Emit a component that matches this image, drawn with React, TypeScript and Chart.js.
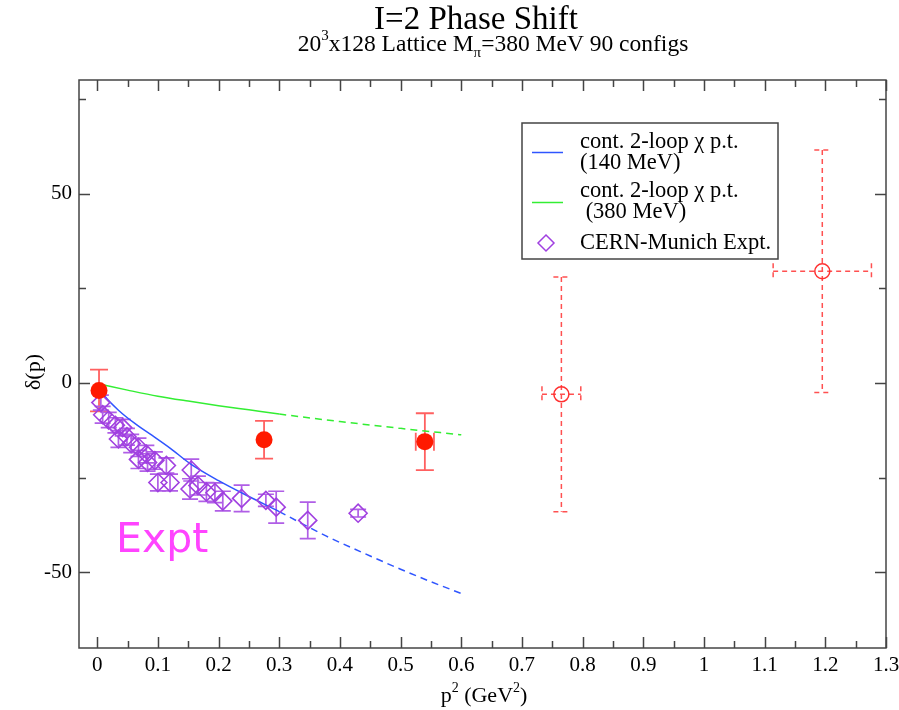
import React, { useEffect, useRef } from 'react';
import { Chart, registerables } from 'chart.js';

Chart.register(...registerables);

// ---------- data ----------
const xTickValues = [0, 0.1, 0.2, 0.3, 0.4, 0.5, 0.6, 0.7, 0.8, 0.9, 1, 1.1, 1.2, 1.3];
const xMinorTickValues = [0.05, 0.15, 0.25, 0.35, 0.45, 0.55, 0.65, 0.75, 0.85, 0.95, 1.05, 1.15, 1.25];
const yTickValues = [-50, 0, 50];
const yMinorTickValues = [-25, 25, 75];

// lattice results (filled red circles)
const latticeX = [0.003, 0.275, 0.54];
const latticeY = [-2, -15, -15.5];
const latticeYErr = [5.5, 5, 7.5];
const latticeXErr = [0, 0, 0.015];

// higher lattice levels (open red circles, dashed error bars)
const upperX = [0.765, 1.195];
const upperY = [-3, 29.5];
const upperYErr = [31, 32];
const upperXErr = [0.032, 0.081];

// CERN-Munich experiment (diamonds)
const exptX = [0.006, 0.009, 0.019, 0.030, 0.042, 0.035, 0.049, 0.056, 0.068, 0.068, 0.081, 0.083, 0.095, 0.114, 0.100, 0.120, 0.155, 0.153, 0.166, 0.180, 0.194, 0.207, 0.238, 0.278, 0.295, 0.347, 0.430];
const exptY = [-5.2, -8.4, -9.8, -11.2, -11.8, -14.8, -14.2, -16.0, -17.0, -20.2, -18.8, -21.0, -20.5, -21.8, -26.3, -26.3, -23.0, -28.0, -27.1, -28.8, -29.0, -31.2, -30.5, -31.0, -32.8, -36.3, -34.4];
const exptYErr = [2.0, 2.2, 2.0, 2.0, 2.2, 2.2, 2.2, 2.4, 2.4, 2.4, 2.3, 2.3, 2.3, 2.0, 2.2, 2.2, 2.9, 2.7, 2.5, 2.5, 2.6, 2.6, 3.5, 1.6, 4.2, 4.8, 1.0];

// continuum 2-loop chiral perturbation theory, 140 MeV
const chpt140X = [0.002, 0.013, 0.035, 0.062, 0.09, 0.12, 0.153, 0.2, 0.25, 0.3, 0.377, 0.45, 0.5, 0.55, 0.6];
const chpt140Y = [-1, -3.6, -7.2, -10.7, -13.8, -17.2, -21.3, -25.8, -30.0, -34.0, -40.4, -45.7, -49.2, -52.5, -55.6];

// continuum 2-loop chiral perturbation theory, 380 MeV
const chpt380X = [0.003, 0.05, 0.1, 0.15, 0.2, 0.25, 0.3, 0.4, 0.5, 0.6];
const chpt380Y = [-0.3, -1.9, -3.5, -4.8, -6.0, -7.1, -8.2, -10.2, -12.0, -13.7];

const solidLimit = 0.3;

// ---------- styling ----------
const SERIF = '"Liberation Serif", "Times New Roman", serif';
const BLUE = '#2f55ff';
const GREEN = '#33ee33';
const PURPLE = '#a040e0';
const PURPLE_BAR = '#b05ee6';
const RED = '#ff1a00';
const RED_BAR = '#ff6060';

const pts = (xs: number[], ys: number[]) => xs.map((x, i) => ({ x, y: ys[i] }));

type Part = { t: string; sup?: boolean; sub?: boolean };

function drawRich(ctx: CanvasRenderingContext2D, parts: Part[], cx: number, baseline: number, size: number) {
  const small = Math.round(size * 0.62);
  let total = 0;
  for (const p of parts) {
    ctx.font = `${p.sup || p.sub ? small : size}px ${SERIF}`;
    total += ctx.measureText(p.t).width;
  }
  let x = cx - total / 2;
  ctx.textAlign = 'left';
  ctx.textBaseline = 'alphabetic';
  for (const p of parts) {
    ctx.font = `${p.sup || p.sub ? small : size}px ${SERIF}`;
    const dy = p.sup ? -size * 0.45 : p.sub ? size * 0.25 : 0;
    ctx.fillText(p.t, x, baseline + dy);
    x += ctx.measureText(p.t).width;
  }
}

const errorBarPlugin = {
  id: 'errorBars',
  beforeDatasetsDraw(chart: any) {
    const ctx = chart.ctx as CanvasRenderingContext2D;
    const xs = chart.scales.x;
    const ys = chart.scales.y;
    chart.data.datasets.forEach((ds: any) => {
      const eb = ds.eb;
      if (!eb) return;
      ctx.save();
      ctx.strokeStyle = eb.color;
      ctx.lineWidth = eb.width;
      ctx.setLineDash(eb.dash || []);
      ds.data.forEach((d: any, i: number) => {
        const px = xs.getPixelForValue(d.x);
        const py = ys.getPixelForValue(d.y);
        const ye = eb.yerr ? eb.yerr[i] : 0;
        const xe = eb.xerr ? eb.xerr[i] : 0;
        if (ye > 0) {
          const top = ys.getPixelForValue(d.y + ye);
          const bot = ys.getPixelForValue(d.y - ye);
          ctx.beginPath();
          ctx.moveTo(px, top); ctx.lineTo(px, bot);
          ctx.moveTo(px - eb.cap, top); ctx.lineTo(px + eb.cap, top);
          ctx.moveTo(px - eb.cap, bot); ctx.lineTo(px + eb.cap, bot);
          ctx.stroke();
        }
        if (xe > 0) {
          const l = xs.getPixelForValue(d.x - xe);
          const r = xs.getPixelForValue(d.x + xe);
          ctx.beginPath();
          ctx.moveTo(l, py); ctx.lineTo(r, py);
          ctx.moveTo(l, py - eb.cap); ctx.lineTo(l, py + eb.cap);
          ctx.moveTo(r, py - eb.cap); ctx.lineTo(r, py + eb.cap);
          ctx.stroke();
        }
      });
      ctx.restore();
    });
  },
};

const decorPlugin = {
  id: 'decor',
  afterDraw(chart: any) {
    const ctx = chart.ctx as CanvasRenderingContext2D;
    const a = chart.chartArea;
    const xs = chart.scales.x;
    const ys = chart.scales.y;
    ctx.save();

    // frame
    ctx.strokeStyle = '#444';
    ctx.lineWidth = 1.5;
    ctx.setLineDash([]);
    ctx.strokeRect(a.left, a.top, a.right - a.left, a.bottom - a.top);

    // inward ticks on all sides
    const major = 11, minor = 7;
    ctx.beginPath();
    const xt = (vals: number[], len: number) => vals.forEach((v) => {
      const p = Math.round(xs.getPixelForValue(v)) + 0.5;
      ctx.moveTo(p, a.bottom); ctx.lineTo(p, a.bottom - len);
      ctx.moveTo(p, a.top); ctx.lineTo(p, a.top + len);
    });
    const yt = (vals: number[], len: number) => vals.forEach((v) => {
      const p = Math.round(ys.getPixelForValue(v)) + 0.5;
      ctx.moveTo(a.left, p); ctx.lineTo(a.left + len, p);
      ctx.moveTo(a.right, p); ctx.lineTo(a.right - len, p);
    });
    xt(xTickValues, major); xt(xMinorTickValues, minor);
    yt(yTickValues, major); yt(yMinorTickValues, minor);
    ctx.stroke();

    // titles
    ctx.fillStyle = '#000';
    drawRich(ctx, [{ t: 'I=2 Phase Shift' }], 476, 29, 33);
    drawRich(ctx, [
      { t: '20' }, { t: '3', sup: true }, { t: 'x128 Lattice M' }, { t: 'π', sub: true },
      { t: '=380 MeV 90 configs' },
    ], 493, 51, 23.5);

    // axis titles
    drawRich(ctx, [{ t: 'p' }, { t: '2', sup: true }, { t: ' (GeV' }, { t: '2', sup: true }, { t: ')' }], 484, 702, 22);
    ctx.save();
    ctx.translate(40, 372);
    ctx.rotate(-Math.PI / 2);
    drawRich(ctx, [{ t: 'δ(p)' }], 0, 0, 22);
    ctx.restore();

    // legend
    const lx = 522, ly = 123, lw = 256, lh = 136;
    ctx.fillStyle = '#fff';
    ctx.fillRect(lx, ly, lw, lh);
    ctx.strokeStyle = '#444';
    ctx.lineWidth = 1.5;
    ctx.strokeRect(lx, ly, lw, lh);

    ctx.lineWidth = 1.5;
    ctx.strokeStyle = BLUE;
    ctx.beginPath(); ctx.moveTo(532, 152.5); ctx.lineTo(563, 152.5); ctx.stroke();
    ctx.strokeStyle = GREEN;
    ctx.beginPath(); ctx.moveTo(532, 202.5); ctx.lineTo(563, 202.5); ctx.stroke();
    ctx.strokeStyle = PURPLE;
    ctx.beginPath();
    ctx.moveTo(546, 235); ctx.lineTo(554, 243); ctx.lineTo(546, 251); ctx.lineTo(538, 243); ctx.closePath();
    ctx.stroke();

    ctx.fillStyle = '#000';
    ctx.font = `22.5px ${SERIF}`;
    ctx.textAlign = 'left';
    ctx.textBaseline = 'alphabetic';
    ctx.fillText('cont. 2-loop χ p.t.', 580, 148);
    ctx.fillText('(140 MeV)', 580, 169);
    ctx.fillText('cont. 2-loop χ p.t.', 580, 197);
    ctx.fillText(' (380 MeV)', 580, 218);
    ctx.fillText('CERN-Munich Expt.', 580, 249);

    // annotation
    ctx.fillStyle = '#ff44ff';
    ctx.font = '41px "DejaVu Sans", sans-serif';
    ctx.fillText('Expt', 116, 552);

    ctx.restore();
  },
};

export default function App() {
  const ref = useRef<HTMLCanvasElement>(null);

  useEffect(() => {
    if (!ref.current) return;
    const dashAfter = (c: any) => (c.p0.parsed.x >= solidLimit - 1e-9 ? [7, 5] : undefined);
    const chart = new Chart(ref.current, {
      type: 'scatter',
      data: {
        datasets: [
          {
            label: 'lattice',
            data: pts(latticeX, latticeY),
            pointStyle: 'circle',
            pointRadius: 8.5,
            backgroundColor: RED,
            borderColor: RED,
            borderWidth: 0,
            eb: { yerr: latticeYErr, xerr: latticeXErr, color: RED_BAR, width: 1.8, cap: 9 },
          } as any,
          {
            label: 'upper',
            data: pts(upperX, upperY),
            pointStyle: 'circle',
            pointRadius: 7.5,
            backgroundColor: 'rgba(0,0,0,0)',
            borderColor: '#ff3030',
            borderWidth: 1.5,
            eb: { yerr: upperYErr, xerr: upperXErr, color: '#ff5050', width: 1.5, cap: 8, dash: [5, 4] },
          } as any,
          {
            label: 'CERN-Munich Expt.',
            data: pts(exptX, exptY),
            pointStyle: 'rectRot',
            pointRadius: 9,
            backgroundColor: 'rgba(0,0,0,0)',
            borderColor: PURPLE,
            borderWidth: 1.6,
            eb: { yerr: exptYErr, color: PURPLE_BAR, width: 1.7, cap: 8 },
          } as any,
          {
            type: 'line',
            label: '140 MeV',
            data: pts(chpt140X, chpt140Y),
            showLine: true,
            pointRadius: 0,
            borderColor: BLUE,
            borderWidth: 1.5,
            cubicInterpolationMode: 'monotone',
            segment: { borderDash: dashAfter },
          } as any,
          {
            type: 'line',
            label: '380 MeV',
            data: pts(chpt380X, chpt380Y),
            showLine: true,
            pointRadius: 0,
            borderColor: GREEN,
            borderWidth: 1.5,
            cubicInterpolationMode: 'monotone',
            segment: { borderDash: dashAfter },
          } as any,
        ],
      },
      options: {
        animation: false,
        responsive: false,
        maintainAspectRatio: false,
        layout: { padding: { top: 80, right: 13, left: 0, bottom: 0 } },
        plugins: {
          legend: { display: false },
          tooltip: { enabled: false },
          title: { display: false },
        },
        scales: {
          x: {
            type: 'linear',
            min: -0.03,
            max: 1.3,
            afterBuildTicks: (s: any) => { s.ticks = xTickValues.map((v) => ({ value: v })); },
            afterFit: (s: any) => { s.height = 62; s.paddingRight = 0; s.paddingLeft = 0; },
            grid: { display: false, drawTicks: false },
            border: { display: false },
            ticks: {
              padding: 5,
              autoSkip: false,
              maxRotation: 0,
              color: '#000',
              font: { family: SERIF, size: 21 },
              callback: (v: any) => String(Number(Number(v).toFixed(2))),
            },
          },
          y: {
            type: 'linear',
            min: -70,
            max: 80,
            afterBuildTicks: (s: any) => { s.ticks = yTickValues.map((v) => ({ value: v })); },
            afterFit: (s: any) => { s.width = 79; s.paddingTop = 0; s.paddingBottom = 0; },
            grid: { display: false, drawTicks: false },
            border: { display: false },
            ticks: {
              padding: 7,
              color: '#000',
              font: { family: SERIF, size: 21 },
              callback: (v: any) => String(v),
            },
          },
        },
      } as any,
      plugins: [errorBarPlugin, decorPlugin],
    });
    return () => chart.destroy();
  }, []);

  return (
    <div style={{ position: 'absolute', left: 0, top: 0, width: 899, height: 710, background: '#fff' }}>
      <canvas ref={ref} width={899} height={710} style={{ display: 'block', width: 899, height: 710 }} />
    </div>
  );
}
